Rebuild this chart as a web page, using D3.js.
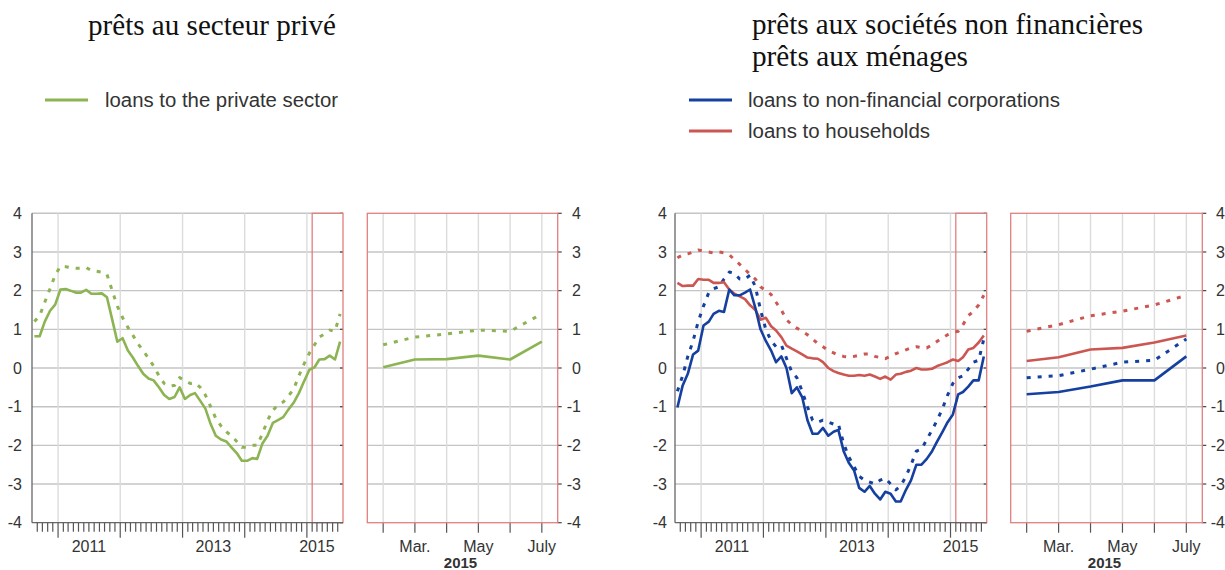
<!DOCTYPE html>
<html><head><meta charset="utf-8">
<script src="https://cdn.jsdelivr.net/npm/d3@7"></script>
<style>html,body{margin:0;padding:0;background:#fff;}svg{display:block;}</style>
</head><body>
<svg id="c" width="1225" height="570"></svg>
<script>
// ---------- data ----------
const startMonth = "2010-08";           // first monthly observation
const endMonth = "2015-07";             // last monthly observation
const zoomStart = "2015-02";            // start of the zoomed window
const yTicks = [-4,-3,-2,-1,0,1,2,3,4];
const yearLabels = ["2011","2013","2015"];
const zoomTickLabels = ["", "Mar.", "", "May", "", "July"];
const zoomYearLabel = "2015";

const titleLeft = ["prêts au secteur privé"];
const titleRight = ["prêts aux sociétés non financières", "prêts aux ménages"];
const legendLeft = ["loans to the private sector"];
const legendRight = ["loans to non-financial corporations", "loans to households"];

const privateSolid = [0.82,0.82,1.2,1.48,1.64,2.03,2.04,2.0,1.95,1.95,
  2.02,1.92,1.92,1.93,1.83,1.25,0.68,0.77,0.45,0.27,
  0.05,-0.15,-0.27,-0.32,-0.5,-0.7,-0.8,-0.75,-0.5,-0.8,
  -0.7,-0.65,-0.85,-1.05,-1.45,-1.75,-1.85,-1.9,-2.05,-2.2,
  -2.4,-2.4,-2.33,-2.35,-1.95,-1.75,-1.42,-1.35,-1.27,-1.07,
  -0.9,-0.65,-0.35,-0.05,0.02,0.22,0.23,0.32,0.22,0.68];
const privateDotted = [1.2,1.35,1.7,2.05,2.4,2.63,2.62,2.6,2.58,2.58,
  2.6,2.52,2.5,2.48,2.42,2.0,1.6,1.3,1.05,0.85,
  0.62,0.45,0.25,0.05,-0.2,-0.4,-0.47,-0.45,-0.25,-0.33,
  -0.4,-0.38,-0.5,-0.7,-1.0,-1.3,-1.5,-1.65,-1.75,-1.9,
  -2.05,-2.05,-2.0,-2.0,-1.7,-1.35,-1.1,-0.95,-0.88,-0.72,
  -0.55,-0.2,0.1,0.38,0.6,0.8,0.88,0.98,0.95,1.4];
const nfcSolid = [-1.02,-0.45,-0.15,0.35,0.45,1.1,1.2,1.4,1.48,1.45,
  2.03,1.88,1.88,1.95,2.03,1.55,1.0,0.7,0.45,0.15,
  0.3,0.0,-0.65,-0.5,-0.75,-1.35,-1.7,-1.7,-1.55,-1.75,
  -1.65,-1.6,-2.15,-2.45,-2.65,-3.1,-3.2,-3.05,-3.25,-3.4,
  -3.2,-3.25,-3.45,-3.45,-3.15,-2.9,-2.5,-2.5,-2.35,-2.15,
  -1.9,-1.65,-1.4,-1.2,-0.68,-0.62,-0.48,-0.32,-0.32,0.3];
const nfcDotted = [-0.6,-0.2,0.3,0.7,1.2,1.6,1.95,2.05,2.1,2.3,
  2.48,2.45,2.3,2.3,2.4,2.1,1.5,1.0,0.7,0.55,
  0.6,0.25,-0.1,-0.25,-0.6,-1.0,-1.35,-1.4,-1.35,-1.4,
  -1.45,-1.45,-1.95,-2.3,-2.55,-2.8,-2.9,-2.95,-3.0,-2.9,
  -2.85,-3.0,-3.15,-3.05,-2.8,-2.5,-2.15,-2.1,-1.85,-1.6,
  -1.35,-1.05,-0.7,-0.4,-0.25,-0.2,-0.03,0.15,0.2,0.75];
const hhSolid = [2.2,2.12,2.13,2.13,2.3,2.28,2.28,2.2,2.2,2.22,
  2.03,1.92,1.85,1.78,1.62,1.5,1.25,1.3,1.08,0.97,
  0.8,0.58,0.5,0.43,0.35,0.27,0.25,0.24,0.15,0.0,
  -0.08,-0.13,-0.17,-0.2,-0.2,-0.18,-0.2,-0.17,-0.22,-0.28,
  -0.22,-0.3,-0.17,-0.15,-0.1,-0.07,0.0,-0.04,-0.04,-0.02,
  0.05,0.1,0.15,0.22,0.18,0.28,0.48,0.52,0.66,0.84];
const hhDotted = [2.85,2.92,2.95,3.0,3.05,3.02,3.0,2.97,3.0,2.98,
  2.93,2.8,2.68,2.55,2.42,2.3,2.1,2.0,1.9,1.7,
  1.5,1.25,1.12,1.03,0.95,0.86,0.75,0.63,0.55,0.45,
  0.39,0.33,0.3,0.28,0.3,0.33,0.36,0.36,0.3,0.27,
  0.24,0.3,0.37,0.42,0.47,0.52,0.55,0.53,0.52,0.6,
  0.69,0.78,0.86,0.92,0.95,1.12,1.35,1.47,1.63,1.88];

// ---------- styles ----------
const GREEN = "#8cb453", BLUE = "#1540a0", RED = "#cc5752";
const FRAME_RED = "#e07f7f";
const SANS = "'Liberation Sans', Arial, Helvetica, sans-serif";
const SERIF = "'Liberation Serif', 'Times New Roman', serif";

const svg = d3.select("#c");
const parseM = d3.timeParse("%Y-%m");
const months = d3.timeMonth.range(parseM(startMonth), d3.timeMonth.offset(parseM(endMonth), 1));
const midMonth = d => new Date(d.getFullYear(), d.getMonth(), 15.5);
const zoomIdx = months.findIndex(d => +d === +parseM(zoomStart));

const Y0 = 213.3, Y1 = 522.7;
const y = d3.scaleLinear().domain([-4, 4]).range([Y1, Y0]);

const panels = [
  { x0: 32, x1: 343, zx0: 367.3, zx1: 557.7, leftLab: 22, rightLab: 581,
    series: [ {v: privateSolid, c: GREEN, dash: null}, {v: privateDotted, c: GREEN, dash: "4,7"} ] },
  { x0: 675, x1: 986.7, zx0: 1010.7, zx1: 1202.3, leftLab: 667, rightLab: 1225,
    series: [ {v: hhDotted, c: RED, dash: "4,7"}, {v: nfcDotted, c: BLUE, dash: "4,7"},
              {v: hhSolid, c: RED, dash: null}, {v: nfcSolid, c: BLUE, dash: null} ] }
];

function drawPanel(p) {
  const g = svg.append("g");
  const x = d3.scaleTime()
    .domain([parseM(startMonth), d3.timeMonth.offset(parseM(endMonth), 1)])
    .range([p.x0, p.x1]);
  // horizontal grid
  g.selectAll(null).data(yTicks.filter(t => t > -4)).join("line")
    .attr("x1", p.x0).attr("x2", p.x1).attr("y1", d => y(d)).attr("y2", d => y(d))
    .attr("stroke", "#c4c4c4").attr("stroke-width", 1.4);
  // vertical year grid
  const yearStarts = d3.timeYear.range(d3.timeYear.ceil(x.domain()[0]), x.domain()[1]);
  g.selectAll(null).data(yearStarts).join("line")
    .attr("x1", d => x(d)).attr("x2", d => x(d)).attr("y1", Y0).attr("y2", Y1)
    .attr("stroke", "#dcdcdc").attr("stroke-width", 1.4);
  // right small ticks
  g.selectAll(null).data(yTicks).join("line")
    .attr("x1", p.x1 - 3).attr("x2", p.x1).attr("y1", d => y(d)).attr("y2", d => y(d))
    .attr("stroke", "#444").attr("stroke-width", 1.2);
  // red highlight rectangle
  g.append("rect").attr("x", x(parseM(zoomStart))).attr("y", Y0)
    .attr("width", p.x1 - x(parseM(zoomStart))).attr("height", Y1 - Y0)
    .attr("fill", "none").attr("stroke", FRAME_RED).attr("stroke-width", 1.3);
  // axes lines
  g.append("line").attr("x1", p.x0).attr("x2", p.x0).attr("y1", Y0).attr("y2", Y1)
    .attr("stroke", "#666").attr("stroke-width", 1.3);
  g.append("line").attr("x1", p.x0).attr("x2", p.x1).attr("y1", Y1).attr("y2", Y1)
    .attr("stroke", "#666").attr("stroke-width", 1.3);
  // month ticks
  const mt = d3.timeMonth.range(d3.timeMonth.offset(x.domain()[0], 1), x.domain()[1]);
  g.selectAll(null).data(mt).join("line")
    .attr("x1", d => x(d)).attr("x2", d => x(d)).attr("y1", Y1)
    .attr("y2", d => d.getMonth() === 0 ? Y1 + 15 : Y1 + 9)
    .attr("stroke", "#555").attr("stroke-width", 1.2);
  // year labels
  const labPos = { "2011": new Date(2011, 6, 1), "2013": new Date(2013, 6, 1), "2015": new Date(2015, 2, 1) };
  g.selectAll(null).data(yearLabels).join("text")
    .attr("x", d => x(labPos[d])).attr("y", 552).attr("text-anchor", "middle")
    .attr("font-family", SANS).attr("font-size", 16).attr("fill", "#333").text(d => d);
  // y labels left
  g.selectAll(null).data(yTicks).join("text")
    .attr("x", p.leftLab).attr("y", d => y(d)).attr("dy", "0.36em").attr("text-anchor", "end")
    .attr("font-family", SANS).attr("font-size", 16).attr("fill", "#333").text(d => d);
  // series
  const line = d3.line().x((d, i) => x(midMonth(months[i]))).y(d => y(d));
  p.series.forEach(s => {
    g.append("path").attr("d", line(s.v)).attr("fill", "none").attr("stroke", s.c)
      .attr("stroke-width", s.dash ? 3 : 2.6).attr("stroke-dasharray", s.dash)
      .attr("stroke-linejoin", "round");
  });

  // ----- zoom panel -----
  const zMonths = months.slice(zoomIdx);
  const xz = d3.scalePoint().domain(zMonths.map(d => +d)).range([p.zx0, p.zx1]).padding(0.5);
  const gz = svg.append("g");
  gz.selectAll(null).data(yTicks.filter(t => t > -4 && t < 4)).join("line")
    .attr("x1", p.zx0).attr("x2", p.zx1).attr("y1", d => y(d)).attr("y2", d => y(d))
    .attr("stroke", "#c4c4c4").attr("stroke-width", 1.4);
  gz.selectAll(null).data(zMonths).join("line")
    .attr("x1", d => xz(+d)).attr("x2", d => xz(+d)).attr("y1", Y0).attr("y2", Y1)
    .attr("stroke", "#dcdcdc").attr("stroke-width", 1.4);
  gz.selectAll(null).data(yTicks).join("line")
    .attr("x1", p.zx1).attr("x2", p.zx1 + 4).attr("y1", d => y(d)).attr("y2", d => y(d))
    .attr("stroke", "#444").attr("stroke-width", 1.2);
  gz.selectAll(null).data(zMonths).join("line")
    .attr("x1", d => xz(+d)).attr("x2", d => xz(+d)).attr("y1", Y1).attr("y2", Y1 + 10)
    .attr("stroke", "#555").attr("stroke-width", 1.2);
  gz.append("rect").attr("x", p.zx0).attr("y", Y0).attr("width", p.zx1 - p.zx0).attr("height", Y1 - Y0)
    .attr("fill", "none").attr("stroke", FRAME_RED).attr("stroke-width", 1.3);
  gz.selectAll(null).data(zMonths).join("text")
    .attr("x", d => xz(+d)).attr("y", 552).attr("text-anchor", "middle")
    .attr("font-family", SANS).attr("font-size", 16).attr("fill", "#333")
    .text((d, i) => zoomTickLabels[i]);
  gz.append("text").attr("x", (xz(+zMonths[0]) + xz(+zMonths[zMonths.length - 1])) / 2 - 2).attr("y", 568)
    .attr("text-anchor", "middle").attr("font-family", SANS).attr("font-size", 15)
    .attr("font-weight", "bold").attr("fill", "#333").text(zoomYearLabel);
  gz.selectAll(null).data(yTicks).join("text")
    .attr("x", p.rightLab).attr("y", d => y(d)).attr("dy", "0.36em").attr("text-anchor", "end")
    .attr("font-family", SANS).attr("font-size", 16).attr("fill", "#333").text(d => d);
  const zline = d3.line().x((d, i) => xz(+zMonths[i])).y(d => y(d));
  p.series.forEach(s => {
    gz.append("path").attr("d", zline(s.v.slice(zoomIdx))).attr("fill", "none").attr("stroke", s.c)
      .attr("stroke-width", s.dash ? 3 : 2.6).attr("stroke-dasharray", s.dash)
      .attr("stroke-linejoin", "round");
  });
}
panels.forEach(drawPanel);

// ---------- titles & legends ----------
function fitText(sel, w) { sel.attr("textLength", w).attr("lengthAdjust", "spacingAndGlyphs"); }
fitText(svg.append("text").attr("x", 88).attr("y", 35).attr("font-family", SERIF).attr("font-size", 29)
  .attr("fill", "#111").text(titleLeft[0]), 248);
const trW = [391, 216];
titleRight.forEach((t, i) => fitText(svg.append("text").attr("x", 752).attr("y", 34 + i * 32)
  .attr("font-family", SERIF).attr("font-size", 29).attr("fill", "#111").text(t), trW[i]));

svg.append("line").attr("x1", 45).attr("x2", 88).attr("y1", 100).attr("y2", 100)
  .attr("stroke", GREEN).attr("stroke-width", 3);
fitText(svg.append("text").attr("x", 105).attr("y", 107).attr("font-family", SANS).attr("font-size", 20)
  .attr("fill", "#333").text(legendLeft[0]), 233);
const lrC = [BLUE, RED], lrW = [312, 182];
legendRight.forEach((t, i) => {
  svg.append("line").attr("x1", 689).attr("x2", 732).attr("y1", 100 + i * 31).attr("y2", 100 + i * 31)
    .attr("stroke", lrC[i]).attr("stroke-width", 3);
  fitText(svg.append("text").attr("x", 748).attr("y", 107 + i * 31).attr("font-family", SANS)
    .attr("font-size", 20).attr("fill", "#333").text(t), lrW[i]);
});
</script>
</body></html>
